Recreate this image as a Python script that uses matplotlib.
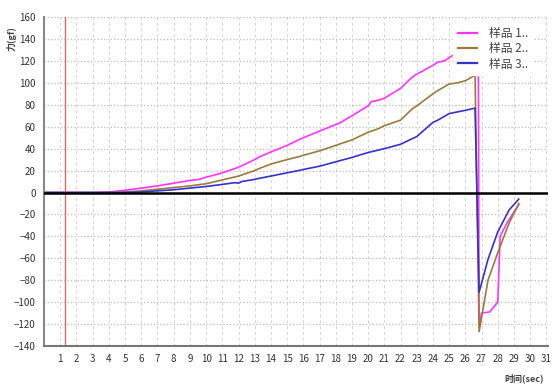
import matplotlib
matplotlib.use("Agg")
from matplotlib import pyplot as plt

plt.rcParams['font.family'] = ['Noto Sans CJK SC', 'DejaVu Sans']

# force curves: time in sec, force in gf
t1 = [0, 3, 4, 5, 6, 7, 8, 9, 9.6, 10, 10.8, 12, 13, 13.3, 14, 15, 15.7, 16, 17, 18, 18.2,
      19, 20, 20.2, 20.6, 21, 22, 22.7, 23, 24, 24.3, 24.7, 25.2, 26, 26.8,
      26.85, 27.0, 27.5, 28.0, 28.15, 28.6, 29.3]
f1 = [0, 0, 0.5, 2, 4, 6, 8.5, 11, 12, 14, 17, 23, 30, 32.6, 37, 43, 48, 50, 56, 62, 63,
      70, 79, 83, 84, 86, 95, 105, 108, 116, 119, 120, 125, 131, 137,
      -122, -110, -109, -100, -40, -27, -11]

t2 = [0, 4, 5, 6, 7, 8, 9, 10, 10.8, 12, 13, 13.3, 14, 15, 15.7, 16, 17, 18, 19, 20,
      20.6, 21, 22, 22.7, 23, 24, 24.3, 25, 25.5, 26, 26.6,
      26.85, 27.4, 28.0, 28.7, 29.3]
f2 = [0, 0, 0.5, 1.5, 3, 4.5, 6, 8, 10.8, 15, 20, 22, 26, 30, 32.6, 34, 38, 43, 48, 55,
      58, 61, 66, 76, 79, 90, 93, 99, 100, 102, 107,
      -127, -80, -55, -28, -10]

t3 = [0, 5, 6, 7, 8, 9, 10, 10.8, 11.8, 12, 12.2, 13, 13.3, 14, 15, 15.7, 16, 17, 18, 19,
      20, 21, 22, 22.7, 23, 24, 24.3, 25, 26, 26.6,
      26.85, 27.4, 28.0, 28.7, 29.3]
f3 = [0, 0, 0.5, 1.5, 2.5, 4, 5.5, 7, 9, 8.5, 10, 12, 13, 15, 18, 20, 21, 24, 28, 32,
      36.5, 40, 44, 49, 51, 64, 66, 72, 75, 77,
      -91, -61, -36, -16, -6]

labels = ["样品 1..", "样品 2..", "样品 3.."]
colors = ["#ff33ff", "#9c7a3c", "#3333cc"]

fig = plt.figure(figsize=(5.58, 3.9), dpi=100)
ax = fig.add_axes([0.079, 0.113, 0.903, 0.843])

for t, f, lab, c in zip([t1, t2, t3], [f1, f2, f3], labels, colors):
    ax.plot(t, f, color=c, lw=1.2, label=lab)

ax.axhline(0, color="black", lw=1.8, zorder=3)
ax.axvline(1.3, color="#ff5555", lw=0.9)

ax.set_xlim(0, 31.1)
ax.set_ylim(-140, 160)
ax.set_xticks(range(1, 32))
ax.set_yticks(range(-140, 161, 20))
ax.tick_params(length=0, labelsize=7, colors="#333333", pad=6)
ax.grid(axis="x", color="#d4d4d4", ls=(0, (3, 3)), lw=0.7)
ax.grid(axis="y", color="#bbbbbb", ls=":", lw=0.9)
for s in ["top", "right"]:
    ax.spines[s].set_visible(False)
ax.spines["left"].set_color("#888888")
ax.spines["left"].set_linewidth(1.5)
ax.spines["bottom"].set_color("#777777")
ax.spines["bottom"].set_linewidth(1.5)

leg = ax.legend(loc="upper left", bbox_to_anchor=(0.812, 0.985), frameon=True,
                fontsize=8.5, handlelength=1.6, handletextpad=1.0, borderaxespad=0.0,
                borderpad=0.4, labelspacing=0.2)
leg.get_frame().set_edgecolor("white")
leg.get_frame().set_facecolor("white")
leg.get_frame().set_alpha(1)
leg.get_frame().set_boxstyle("square", pad=0.0)
for line in leg.get_lines():
    line.set_linewidth(1.6)
for txt in leg.get_texts():
    txt.set_color("#444444")

fig.text(0.02, 0.9, "力(gf)", rotation=90, fontsize=6.5, color="#444444",
         fontweight="bold", ha="center", va="center")
fig.text(0.975, 0.03, "时间(sec)", fontsize=6.5, color="#444444",
         fontweight="bold", ha="right", va="center")

fig.savefig("out.png", dpi=100)
